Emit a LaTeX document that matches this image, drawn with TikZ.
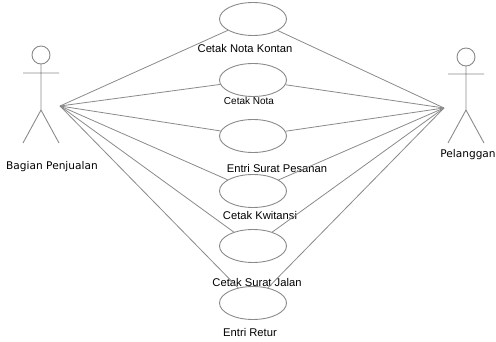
\documentclass[tikz,border=0pt]{standalone}
\usepackage{fontspec}
\setmainfont{Liberation Sans}
\newfontfamily\actorfont{DejaVu Sans}
\usetikzlibrary{shapes.geometric}
\definecolor{linegray}{HTML}{8A8A8A}

\begin{document}
\begin{tikzpicture}[x=1pt,y=-1pt,
    usecase/.style={ellipse,draw=linegray,line width=0.9pt,minimum width=67pt,minimum height=33pt,inner sep=0pt},
    uclabel/.style={font=\fontsize{11.2}{13}\selectfont,inner sep=0pt},
    actorlabel/.style={font=\actorfont\fontsize{10.6}{12}\selectfont,inner sep=0pt},
    actor/.style={draw=linegray,line width=0.9pt}]
  \useasboundingbox (0,0) rectangle (496,342);

  % actors
  \draw[actor] (41,55) circle (9);
  \draw[actor] (41,64) -- (41,110) (23,73) -- (59,73) (23,143) -- (41,110) -- (59,143);
  \coordinate (bpj) at (60,106);
  \node[actorlabel] (bpjtext) at (52,167) {Bagian Penjualan};

  \draw[actor] (466,57) circle (9);
  \draw[actor] (466,66) -- (466,110) (448,74) -- (484,74) (448,143) -- (466,110) -- (484,143);
  \coordinate (plg) at (444,108);
  \node[actorlabel] (plgtext) at (468,155) {Pelanggan};

  % use cases
  \node[usecase] (nk) at (253,19) {};
  \node[usecase] (nota) at (253,80) {};
  \node[usecase] (pesan) at (253,136) {};
  \node[usecase] (kwit) at (253,191) {};
  \node[usecase] (sjalan) at (253,246) {};
  \node[usecase] (retur) at (253,303) {};

  \node[uclabel] (nktext) at (245,48) {Cetak Nota Kontan};
  \node[uclabel,font=\fontsize{10}{12}\selectfont] (notatext) at (249,101) {Cetak Nota};
  \node[uclabel] (pesantext) at (277,168) {Entri Surat Pesanan};
  \node[uclabel] (kwittext) at (260,215) {Cetak Kwitansi};
  \node[uclabel] (sjalantext) at (257,282) {Cetak Surat Jalan};
  \node[uclabel] (returtext) at (250,332) {Entri Retur};

  \path[draw=linegray,line width=0.8pt]
    (bpj) edge (nk) edge (nota) edge (pesan) edge (kwit) edge (sjalan) edge (retur)
    (plg) edge (nk) edge (nota) edge (pesan) edge (kwit) edge (sjalan) edge (retur);
\end{tikzpicture}
\end{document}
